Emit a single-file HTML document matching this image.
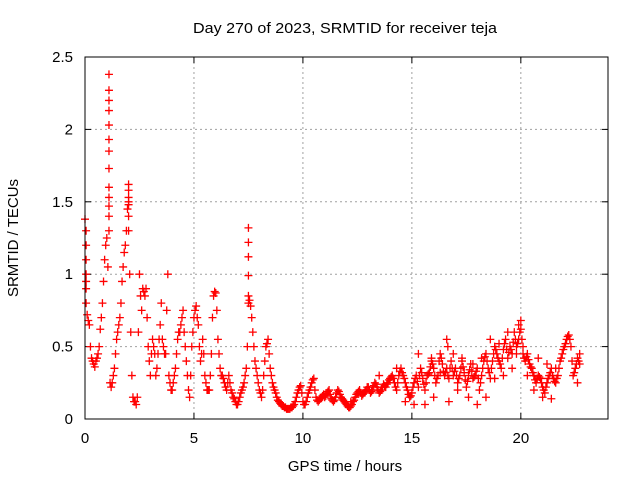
<!DOCTYPE html>
<html><head><meta charset="utf-8"><style>
html,body{margin:0;padding:0;background:#fff}
svg{display:block;font-family:"Liberation Sans",sans-serif;font-size:15px}
</style></head><body>
<svg id="chart" width="640" height="480" viewBox="0 0 640 480" xmlns="http://www.w3.org/2000/svg">
<rect width="640" height="480" fill="#fff"/>
<text x="193" y="33" textLength="304" lengthAdjust="spacingAndGlyphs" fill="#000">Day 270 of 2023, SRMTID for receiver teja</text>
<text x="345" y="471" text-anchor="middle" fill="#000">GPS time / hours</text>
<text transform="translate(18,238) rotate(-90)" text-anchor="middle" fill="#000">SRMTID / TECUs</text>
<g id="grid"></g>
<g id="ticks"></g>
<g id="marks"></g>
<rect x="85" y="57" width="523" height="362" fill="none" stroke="#000" stroke-width="1"/>
</svg>
<script>
const xTicks = [0, 5, 10, 15, 20];
const yTicks = [0, 0.5, 1, 1.5, 2, 2.5];
const yTickLabels = ["0", "0.5", "1", "1.5", "2", "2.5"];
const tStep = 0.1;
const srmtid = [
1.38,0.72,0.65,0.42,0.38,0.4,0.45,0.62,0.8,1.1,
1.25,2.38,0.22,0.3,0.45,0.6,0.7,0.95,1.15,1.3,
1.5,0.6,0.15,0.12,0.15,1.0,0.75,0.88,0.9,0.5,
0.3,0.55,0.45,0.35,0.55,0.8,0.5,0.45,1.0,0.25,
0.2,0.3,0.45,0.6,0.65,0.75,0.5,0.3,0.15,0.5,
0.7,0.78,0.65,0.4,0.55,0.3,0.2,0.2,0.45,0.85,
0.87,0.55,0.35,0.3,0.25,0.2,0.3,0.2,0.15,0.12,
0.1,0.15,0.2,0.25,0.35,0.8,0.78,0.6,0.4,0.3,
0.2,0.15,0.3,0.5,0.55,0.35,0.25,0.2,0.15,0.12,
0.1,0.09,0.08,0.07,0.07,0.08,0.1,0.15,0.2,0.23,
0.12,0.1,0.15,0.2,0.25,0.28,0.15,0.12,0.14,0.16,
0.15,0.18,0.2,0.14,0.12,0.15,0.2,0.17,0.14,0.12,
0.1,0.08,0.09,0.12,0.15,0.18,0.2,0.16,0.18,0.2,
0.22,0.18,0.2,0.25,0.22,0.18,0.2,0.24,0.22,0.25,
0.28,0.3,0.25,0.2,0.3,0.35,0.3,0.25,0.2,0.15,
0.18,0.25,0.3,0.22,0.35,0.28,0.2,0.3,0.32,0.4,
0.35,0.25,0.3,0.45,0.38,0.3,0.35,0.28,0.4,0.3,
0.35,0.25,0.3,0.4,0.32,0.22,0.3,0.38,0.28,0.3,
0.35,0.2,0.3,0.4,0.45,0.35,0.28,0.4,0.5,0.45,
0.4,0.35,0.48,0.55,0.42,0.5,0.45,0.6,0.5,0.55,
0.62,0.45,0.4,0.45,0.38,0.35,0.3,0.25,0.3,0.28,
0.22,0.18,0.25,0.3,0.35,0.28,0.25,0.3,0.4,0.45,
0.5,0.55,0.58,0.5,0.3,0.35,0.42,0.38
];
const srmtidHalf = [
0.95,0.68,0.5,0.4,0.36,0.42,0.5,0.7,0.95,1.2,
1.05,0.25,0.25,0.35,0.55,0.65,0.8,1.05,1.2,1.45,
1.0,0.3,0.12,0.1,0.6,0.85,0.9,0.85,0.7,0.4,
0.45,0.5,0.3,0.45,0.65,0.55,0.45,0.75,0.3,0.2,
0.25,0.35,0.55,0.6,0.7,0.6,0.4,0.2,0.3,0.6,
0.75,0.7,0.5,0.45,0.45,0.25,0.2,0.3,0.7,0.88,
0.75,0.45,0.3,0.28,0.22,0.25,0.25,0.18,0.14,0.1,
0.12,0.18,0.22,0.3,0.5,0.82,0.7,0.5,0.35,0.25,
0.18,0.2,0.4,0.52,0.45,0.3,0.22,0.18,0.13,0.11,
0.09,0.08,0.07,0.07,0.08,0.09,0.12,0.18,0.22,0.18,
0.1,0.12,0.18,0.22,0.27,0.2,0.13,0.13,0.15,0.17,
0.16,0.19,0.17,0.13,0.13,0.18,0.19,0.15,0.13,0.11,
0.09,0.08,0.1,0.13,0.17,0.19,0.18,0.17,0.19,0.22,
0.2,0.19,0.23,0.24,0.2,0.19,0.22,0.23,0.24,0.27,
0.29,0.28,0.22,0.25,0.33,0.32,0.28,0.22,0.17,0.16,
0.22,0.28,0.26,0.3,0.32,0.24,0.25,0.31,0.36,0.38,
0.3,0.28,0.4,0.42,0.33,0.32,0.3,0.35,0.35,0.33,
0.3,0.28,0.35,0.36,0.27,0.26,0.34,0.33,0.29,0.33,
0.28,0.25,0.35,0.43,0.4,0.32,0.35,0.45,0.48,0.42,
0.38,0.42,0.52,0.48,0.46,0.48,0.53,0.55,0.52,0.6,
0.55,0.42,0.43,0.41,0.36,0.32,0.27,0.28,0.29,0.25,
0.2,0.22,0.28,0.32,0.3,0.26,0.28,0.35,0.42,0.48,
0.52,0.57,0.55,0.4,0.32,0.38,0.4
];
const extraT = [0.05,0.05,0.05,0.05,0.05,0.05,1.1,1.1,1.1,1.1,1.1,1.1,1.1,1.1,1.1,1.1,1.1,1.1,2.0,2.0,2.0,2.0,2.0,2.0,7.5,7.5,7.5,7.5,7.5];
const extraV = [1.3,1.2,1.1,1.0,0.9,0.8,2.27,2.2,2.13,2.03,1.93,1.85,1.73,1.6,1.53,1.47,1.4,1.3,1.62,1.58,1.53,1.48,1.4,1.3,1.32,1.22,1.12,0.99,0.85];
const scatterT = [15.1,15.3,15.6,15.9,16.0,16.3,16.6,16.65,16.7,16.9,17.1,17.3,17.6,17.8,18.0,18.2,18.4,18.6,18.8,19.0,19.2,19.4,19.6,19.8,19.9,20.0,20.1,20.3,20.6,20.8,21.0,21.2,21.4,21.6,22.6,22.7,12.2,13.5,14.3,14.7];
const scatterV = [0.1,0.45,0.1,0.42,0.15,0.32,0.55,0.5,0.12,0.45,0.2,0.42,0.15,0.38,0.1,0.42,0.15,0.55,0.28,0.52,0.3,0.6,0.35,0.45,0.65,0.68,0.5,0.3,0.2,0.42,0.15,0.38,0.14,0.35,0.25,0.45,0.12,0.3,0.35,0.12];

const X0=85, X1=608, Y0=419, Y1=57, XMAX=24, YMAX=2.5;
function xs(t){return X0+(X1-X0)*t/XMAX;}
function ys(v){return Y0-(Y0-Y1)*v/YMAX;}
const NS="http://www.w3.org/2000/svg";
const grid=document.getElementById('grid'), ticks=document.getElementById('ticks'), marks=document.getElementById('marks');
function mk(tag,attrs,parent){const e=document.createElementNS(NS,tag);for(const k in attrs)e.setAttribute(k,attrs[k]);parent.appendChild(e);return e;}
xTicks.forEach((t,i)=>{
  const x=xs(t);
  if(i>0){const g=mk('line',{x1:x,x2:x,y1:Y1,y2:Y0,stroke:'#a0a0a0','stroke-dasharray':'2,3'},grid);
  
  }
  const a=mk('line',{x1:x,x2:x,y1:Y0,y2:Y0-6,stroke:'#000'},ticks);
  
  
  const b=mk('line',{x1:x,x2:x,y1:Y1,y2:Y1+6,stroke:'#000'},ticks);
  
  
  const l=mk('text',{x:x,y:443,'text-anchor':'middle',fill:'#000'},ticks);
  l.textContent=String(t);
  
  
});
yTicks.forEach((v,i)=>{
  const y=ys(v);
  if(i>0&&i<yTicks.length-1){const g=mk('line',{x1:X0,x2:X1,y1:y,y2:y,stroke:'#a0a0a0','stroke-dasharray':'2,3'},grid);
  
  }
  const a=mk('line',{x1:X0,x2:X0+6,y1:y,y2:y,stroke:'#000'},ticks);
  
  
  const b=mk('line',{x1:X1,x2:X1-6,y1:y,y2:y,stroke:'#000'},ticks);
  
  
  const l=mk('text',{x:73,y:y+5,'text-anchor':'end',fill:'#000'},ticks);
  l.textContent=yTickLabels[i];
  
  
});
function plus(t,v){
  const x=xs(t), y=ys(v);
  const p=mk('path',{d:`M${x-4},${y}H${x+4}M${x},${y-4}V${y+4}`,stroke:'#ff0000','stroke-width':1.3,fill:'none'},marks);
  
  
}
srmtid.forEach((v,i)=>plus(i*tStep,v));
srmtidHalf.forEach((v,i)=>plus(i*tStep+tStep/2,v));
extraT.forEach((t,i)=>plus(t,extraV[i]));
scatterT.forEach((t,i)=>plus(t,scatterV[i]));
</script>
</body></html>
